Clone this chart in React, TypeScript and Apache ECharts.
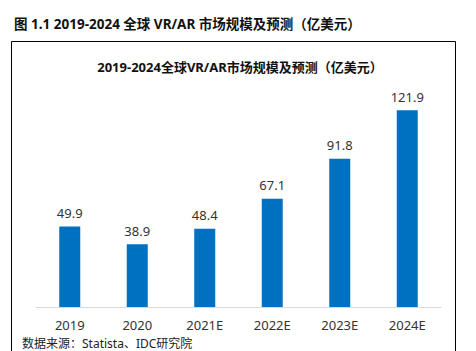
import React, { useEffect, useRef } from "react";
import * as echarts from "echarts";

const categories = ["2019", "2020", "2021E", "2022E", "2023E", "2024E"];
const values = [49.9, 38.9, 48.4, 67.1, 91.8, 121.9];
const outerTitle = "图 1.1 2019-2024 全球 VR/AR 市场规模及预测（亿美元）";
const innerTitle = "2019-2024全球VR/AR市场规模及预测（亿美元）";
const sourceText = "数据来源：Statista、IDC研究院";

const FONT = "'Noto Sans', 'Noto Sans CJK SC', sans-serif";

export default function App() {
  const ref = useRef<HTMLDivElement>(null);
  useEffect(() => {
    if (!ref.current) return;
    const chart = echarts.init(ref.current, null, { renderer: "svg" });
    chart.setOption({
      animation: false,
      backgroundColor: "#ffffff",
      textStyle: { fontFamily: FONT },
      title: [
        {
          text: outerTitle,
          left: 9,
          top: 12,
          textStyle: { fontSize: 13.5, fontWeight: "bold", color: "#111", fontFamily: FONT },
        },
        {
          text: innerTitle,
          left: 235,
          textAlign: "center",
          top: 55,
          textStyle: { fontSize: 13, fontWeight: "bold", color: "#111", fontFamily: FONT },
        },
      ],
      graphic: [
        {
          type: "rect",
          shape: { x: 11.5, y: 41.5, width: 444, height: 400 },
          style: { fill: "none", stroke: "#000", lineWidth: 1 },
          z: 0,
        },
        {
          type: "text",
          left: 22,
          top: 337,
          style: { text: sourceText, fontSize: 12, fill: "#222", fontFamily: FONT },
        },
      ],
      grid: { left: 36, right: 35, top: 81, bottom: 44 },
      xAxis: {
        type: "category",
        data: categories,
        axisLine: { lineStyle: { color: "#d9d9d9", width: 1 } },
        axisTick: { show: false },
        axisLabel: { color: "#333", fontSize: 13, margin: 11, fontFamily: FONT },
      },
      yAxis: {
        type: "value",
        min: 0,
        max: 140,
        show: false,
        splitLine: { show: false },
      },
      series: [
        {
          type: "bar",
          data: values,
          barWidth: 21,
          itemStyle: { color: "#0070C0" },
          label: {
            show: true,
            position: "top",
            distance: 7,
            color: "#333",
            fontSize: 13,
            fontFamily: FONT,
          },
        },
      ],
    });
    return () => chart.dispose();
  }, []);
  return (
    <div
      ref={ref}
      style={{ position: "absolute", left: 0, top: 0, width: 476, height: 351 }}
    />
  );
}
